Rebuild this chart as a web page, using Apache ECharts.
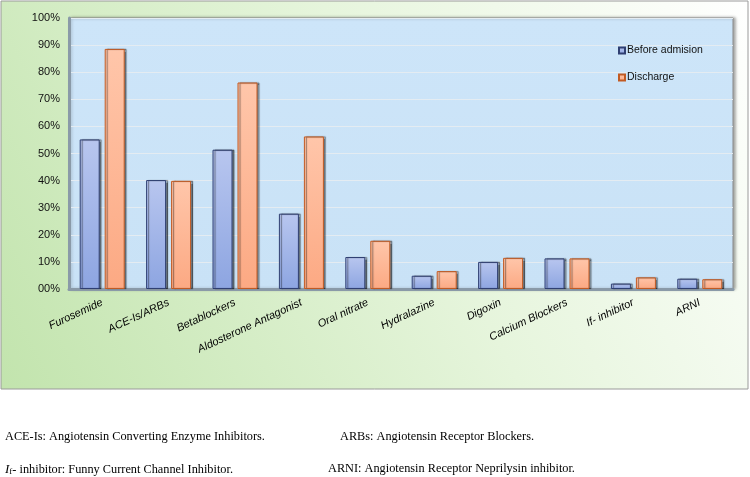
<!DOCTYPE html>
<html><head><meta charset="utf-8">
<script src="https://cdn.jsdelivr.net/npm/echarts@6/dist/echarts.min.js"></script>
<style>html,body{margin:0;padding:0;background:#fff;}#c{width:750px;height:477px;}</style>
</head><body><div id="c"></div>
<script>
var categories = ['Furosemide','ACE-Is/ARBs','Betablockers','Aldosterone Antagonist','Oral nitrate','Hydralazine','Digoxin','Calcium Blockers','If- inhibitor','ARNI'];
var beforeAdmission = [55.2, 40.2, 51.4, 27.8, 11.8, 4.9, 10.0, 11.3, 2.0, 3.8];
var discharge = [88.6, 39.9, 76.2, 56.3, 17.8, 6.6, 11.5, 11.3, 4.3, 3.6];
var seriesNames = ['Before admision', 'Discharge'];

var chart = echarts.init(document.getElementById('c'), null, {renderer:'canvas'});
var fontSans = 'Liberation Sans, Arial, sans-serif';
var fontSerif = 'Liberation Serif, Times New Roman, serif';
chart.setOption({
  animation:false,
  backgroundColor:'#ffffff',
  graphic:[
    {type:'rect', z:-10, shape:{x:1,y:1,width:747,height:388},
     style:{fill:new echarts.graphic.LinearGradient(1,0,0,1,[{offset:0,color:'#ffffff'},{offset:0.45,color:'#e6f5dc'},{offset:1,color:'#c2e4ad'}]), stroke:'#9a9a9a', lineWidth:1}},
    {type:'text', left:5, top:431, style:{text:'ACE-Is: Angiotensin Converting Enzyme Inhibitors.', font:'12.3px '+fontSerif, fill:'#000'}},
    {type:'text', left:340, top:431, style:{text:'ARBs: Angiotensin Receptor Blockers.', font:'12.3px '+fontSerif, fill:'#000'}},
    {type:'text', left:5, top:463, style:{text:'{i|I}{s|f}- inhibitor: Funny Current Channel Inhibitor.', font:'12.3px '+fontSerif, fill:'#000',
      rich:{i:{fontStyle:'italic', fontFamily:fontSerif, fontSize:13}, s:{fontFamily:fontSerif, fontSize:9, padding:[5,0,0,0]}}}},
    {type:'text', left:328, top:463, style:{text:'ARNI: Angiotensin Receptor Neprilysin inhibitor.', font:'12.3px '+fontSerif, fill:'#000'}}
  ],
  grid:{left:69, right:17, top:18, bottom:188, show:true,
    backgroundColor:new echarts.graphic.LinearGradient(0,0,0,1,[{offset:0,color:'#cde5f9'},{offset:1,color:'#c9e2f6'}]),
    borderColor:'#8c8c8c', borderWidth:1,
    shadowColor:'rgba(0,0,0,0.35)', shadowBlur:3, shadowOffsetX:2, shadowOffsetY:0},
  legend:{orient:'vertical', left:613, top:40, itemWidth:6, itemHeight:6, itemGap:16,
    icon:'rect', textStyle:{fontFamily:fontSans, fontSize:10.5, color:'#111', padding:[0,0,0,-3]},
    data:seriesNames},
  xAxis:{type:'category', data:categories,
    axisLine:{show:true, lineStyle:{color:'#8a9aa8', width:3}},
    axisTick:{show:false},
    axisLabel:{interval:0, rotate:25, margin:13, fontFamily:fontSans, fontStyle:'italic', fontSize:11, color:'#000'}},
  yAxis:{type:'value', min:0, max:100, interval:10,
    axisLine:{show:true, lineStyle:{color:'#8a9aa8', width:3}},
    axisTick:{show:false},
    splitLine:{lineStyle:{color:'#e4ecf2', width:1}},
    axisLabel:{fontFamily:fontSans, fontSize:11, color:'#111', margin:9,
      formatter:function(v){return (v===0?'00':v)+'%';}}},
  series:[
    {name:seriesNames[0], type:'bar', data:beforeAdmission, barWidth:20, barGap:'25%',
      itemStyle:{color:new echarts.graphic.LinearGradient(0,0,0,1,[{offset:0,color:'#b8c6ef'},{offset:1,color:'#8da5e1'}]),
        borderColor:'#2f3f72', borderWidth:1, shadowColor:'rgba(0,0,0,0.45)', shadowOffsetX:2, shadowBlur:1}},
    {name:seriesNames[1], type:'bar', data:discharge, barWidth:20,
      itemStyle:{color:new echarts.graphic.LinearGradient(0,0,0,1,[{offset:0,color:'#ffc6aa'},{offset:1,color:'#fca983'}]),
        borderColor:'#c25a22', borderWidth:1, shadowColor:'rgba(0,0,0,0.45)', shadowOffsetX:2, shadowBlur:1}}
  ]
});
</script></body></html>
